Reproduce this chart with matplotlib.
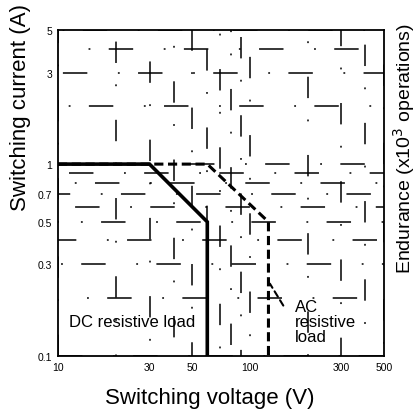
import matplotlib
matplotlib.use('Agg')
import matplotlib.pyplot as plt

plt.rcParams['font.family'] = ['Liberation Sans', 'DejaVu Sans']

# axis ticks (log scales)
volt_ticks = [10, 30, 50, 100, 300, 500]
volt_labels = ['10', '30', '50', '100', '300', '500']
amp_ticks = [0.1, 0.3, 0.5, 0.7, 1, 3, 5]
amp_labels = ['0.1', '0.3', '0.5', '0.7', '1', '3', '5']

# log grid lines
grid_v = [10, 20, 30, 40, 50, 60, 70, 80, 90, 100, 200, 300, 400, 500]
grid_h = [0.1, 0.2, 0.3, 0.4, 0.5, 0.6, 0.7, 0.8, 0.9, 1, 2, 3, 4, 5]

# max switching capacity curves
dc_v = [10, 30, 60, 60]
dc_a = [1, 1, 0.5, 0.1]
ac_v = [10, 60, 125, 125]
ac_a = [1, 1, 0.5, 0.1]

fig = plt.figure(figsize=(4.19, 4.10), dpi=100)
ax = fig.add_axes([0.1384, 0.1293, 0.778, 0.7951])
ax.set_xscale('log')
ax.set_yscale('log')
ax.set_xlim(10, 500)
ax.set_ylim(0.1, 5)

# scanned grid is broken up, so draw it as sparse dash-dot pieces
for i, v in enumerate(grid_v):
    ax.axvline(v, color='black', lw=1.1, ls=(i * 13 % 47, (14, 22, 1.2, 14)), zorder=1)
for i, a in enumerate(grid_h):
    ax.axhline(a, color='black', lw=1.1, ls=(i * 17 % 47, (16, 20, 1.2, 12)), zorder=1)

ax.plot(dc_v, dc_a, color='black', lw=2.6, solid_joinstyle='miter', zorder=3)
ax.plot(ac_v, ac_a, color='black', lw=2.2, ls=(0, (3, 1.5)), zorder=3)

# leader from label to AC curve
ax.annotate('', xy=(125, 0.245), xytext=(152, 0.178),
            arrowprops=dict(arrowstyle='-', ls=(0, (3, 2)), lw=1.5, color='black'))

ax.text(0.227, 0.107, 'DC resistive load', transform=ax.transAxes,
        ha='center', va='center', fontsize=12)
ax.text(0.727, 0.107, 'AC\nresistive\nload', transform=ax.transAxes,
        ha='left', va='center', fontsize=12, linespacing=1.0)

ax.xaxis.set_major_locator(matplotlib.ticker.FixedLocator(volt_ticks))
ax.xaxis.set_minor_locator(matplotlib.ticker.NullLocator())
ax.set_xticklabels(volt_labels)
ax.yaxis.set_major_locator(matplotlib.ticker.FixedLocator(amp_ticks))
ax.yaxis.set_minor_locator(matplotlib.ticker.NullLocator())
ax.set_yticklabels(amp_labels)
ax.tick_params(length=0, labelsize=7.5, pad=4)

for s in ax.spines.values():
    s.set_linewidth(1.3)
    s.set_color('black')

ax.set_xlabel('Switching voltage (V)', fontsize=16)
ax.xaxis.set_label_coords(0.466, -0.095)
ax.set_ylabel('Switching current (A)', fontsize=16)
ax.yaxis.set_label_coords(-0.083, 0.764)

ax2 = ax.twinx()
ax2.set_yticks([])
ax2.set_ylabel('Endurance (x10$^3$ operations)', fontsize=14)
ax2.yaxis.set_label_coords(1.022, 0.64)
for s in ax2.spines.values():
    s.set_visible(False)

fig.savefig('out.png', dpi=100)
